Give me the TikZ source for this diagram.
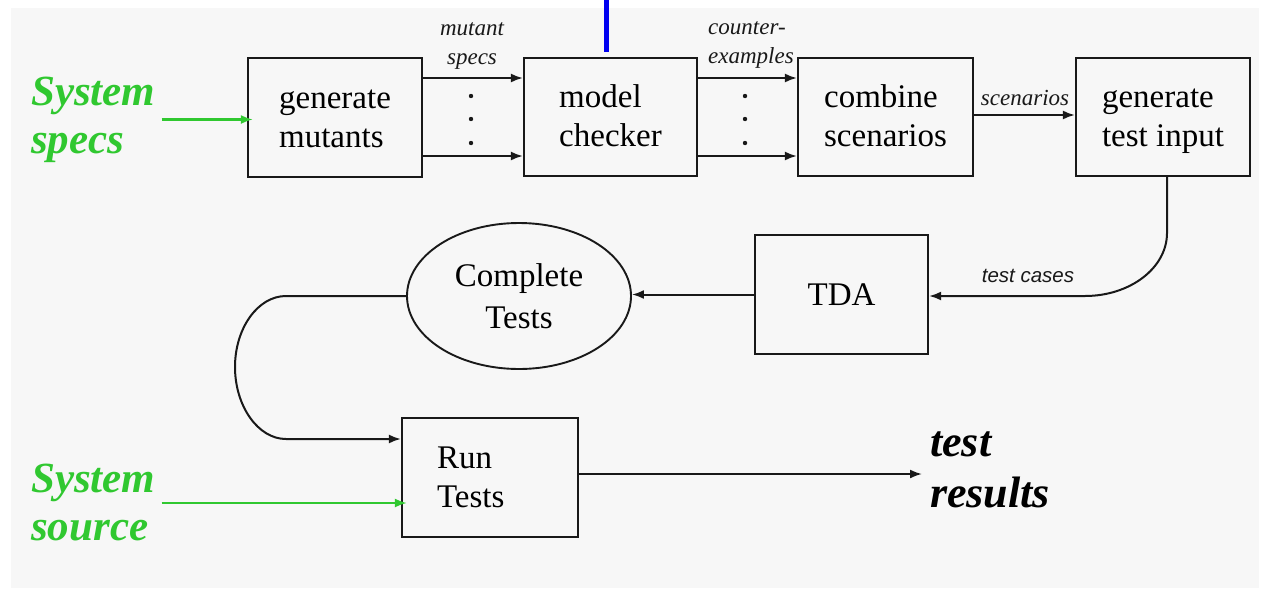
\documentclass[tikz,border=0pt]{standalone}
\usepackage{fontspec}
\setmainfont{Liberation Serif}
\newfontfamily\labelsans{Liberation Sans}
\usetikzlibrary{arrows.meta,shapes.geometric,calc}
\definecolor{pagegray}{RGB}{247,247,247}
\definecolor{specgreen}{RGB}{48,200,48}
\definecolor{markblue}{RGB}{0,0,240}
\definecolor{ink}{RGB}{25,25,25}
% fixed line height/depth so two-line box texts sit at the same baselines
\newcommand\boxstrut{\rule[-8pt]{0pt}{36pt}}

\begin{document}
\begin{tikzpicture}[x=1pt,y=-1pt,
  box/.style={draw=ink, line width=2.2pt, rectangle, inner sep=0pt, align=left,
    font=\fontsize{33}{39}\selectfont},
  bubble/.style={draw=ink, line width=1.9pt, ellipse, inner sep=0pt, align=center,
    font=\fontsize{33}{42}\selectfont},
  arr/.style={draw=ink, line width=2pt, -{Latex[length=12pt,width=9pt]}},
  garr/.style={draw=specgreen, line width=2.2pt, -{Latex[length=12pt,width=9pt]}},
  gtxt/.style={text=specgreen, font=\fontsize{43}{48}\selectfont\bfseries\itshape,
    align=left, inner sep=0pt, anchor=west},
  restxt/.style={text=black, font=\fontsize{44}{51}\selectfont\bfseries\itshape,
    align=left, inner sep=0pt, anchor=west},
  lbl/.style={text=ink, font=\fontsize{23}{28.5}\selectfont\itshape, inner sep=0pt},
  lblsans/.style={text=ink, font=\labelsans\fontsize{20.5}{24}\selectfont\itshape, inner sep=0pt},
  dot/.style={fill=ink}
]
\useasboundingbox (0,0) rectangle (1265,592);
\fill[white] (0,0) rectangle (1265,592);
\fill[pagegray] (11,8) rectangle (1259,588);

% blue marker bar at the top
\draw[markblue, line width=5pt] (606,0) -- (606,52);

% top row
\node[box, minimum width=174pt, minimum height=119pt] (gm)  at (335,117.5)  {\boxstrut generate\\\boxstrut mutants};
\node[box, minimum width=173pt, minimum height=118pt] (mc)  at (610.5,117)  {\boxstrut model\\\boxstrut checker};
\node[box, minimum width=175pt, minimum height=118pt] (cs)  at (885.5,117)  {\boxstrut combine\\\boxstrut scenarios};
\node[box, minimum width=174pt, minimum height=118pt] (gti) at (1163,117)   {\boxstrut generate\\\boxstrut test input};

% middle row
\node[box, align=center, minimum width=173pt, minimum height=119pt] (tda) at (841.5,294.5) {TDA};
\node[bubble, minimum width=224pt, minimum height=146pt] (ct) at (519,296) {Complete\\Tests};

% bottom row
\node[box, text width=106pt, inner xsep=35pt, minimum height=119pt] (rt) at (490,477.5) {\boxstrut Run\\\boxstrut Tests};

% inputs and output
\node[gtxt] (ss)   at (31,119.5) {System\\specs};
\node[gtxt] (ssrc) at (31,503)   {System\\source};
\node[restxt] (tres) at (930,470) {test\\results};

% edge labels
\node[lbl, align=center] (lms) at (472,46) {mutant\\specs};
\node[lbl, align=left, anchor=west] (lce) at (708,45) {counter-\\examples};
\node[lbl, anchor=base] (lsc) at (1025,105) {scenarios};
\node[lblsans, anchor=base] (ltc) at (1028,282) {test cases};

% mutants -> model checker (many specs, elided)
\draw[arr] ([yshift=39.5pt]gm.east) -- ([yshift=39.5pt]gm.east -| mc.west);
\draw[arr] ([yshift=-38.5pt]gm.east) -- ([yshift=-38.5pt]gm.east -| mc.west);
\fill[dot] (471,96) circle (2.2pt) (471,119) circle (2.2pt) (471,143) circle (2.2pt);

% model checker -> combine (many counterexamples, elided)
\draw[arr] ([yshift=39pt]mc.east) -- ([yshift=39pt]mc.east -| cs.west);
\draw[arr] ([yshift=-39pt]mc.east) -- ([yshift=-39pt]mc.east -| cs.west);
\fill[dot] (745,96) circle (2.2pt) (745,119) circle (2.2pt) (745,143) circle (2.2pt);

% combine -> generate test input
\draw[arr] ([yshift=2pt]cs.east) -- ([yshift=2pt]cs.east -| gti.west);

% generate test input -> TDA
\coordinate (bendA) at (1167,233);
\coordinate (bendB) at (1085,296);
\draw[arr] ([xshift=4pt]gti.south) -- (bendA)
  .. controls (1167,268) and (1130,296) .. (bendB) -- (bendB -| tda.east);

% TDA -> Complete Tests
\draw[arr] (tda.west) -- (tda.west -| ct.east);

% Complete Tests -> Run Tests
\coordinate (loopA) at (286,296);
\coordinate (loopL) at (235,367);
\coordinate (loopB) at (286,439);
\draw[arr] (ct.west) -- (loopA)
  .. controls (258,296) and (235,328) .. (loopL)
  .. controls (235,406) and (258,439) .. (loopB) -- (loopB -| rt.west);

% Run Tests -> results
\draw[arr, shorten >=8pt] ([yshift=3.5pt]rt.east) -- ([yshift=3.5pt]rt.east -| tres.west);

% system inputs
\draw[garr] ([xshift=6pt]ss.east) -- ([xshift=6pt]ss.east -| gm.west);
\draw[garr] ([xshift=6pt]ssrc.east) -- ([xshift=6pt]ssrc.east -| rt.west);
\end{tikzpicture}
\end{document}
